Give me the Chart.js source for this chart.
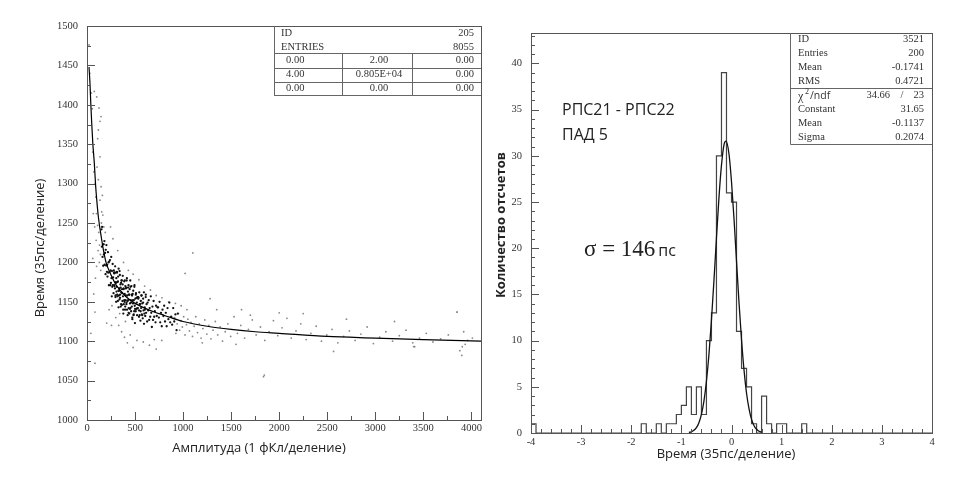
<!DOCTYPE html>
<html>
<head>
<meta charset="utf-8">
<title>РПС: время-амплитуда и временное разрешение</title>
<script src="https://cdn.jsdelivr.net/npm/chart.js"></script>
<style>
  body { margin: 0; background: #fff; }
  #wrap { position: relative; width: 957px; height: 487px; }
  canvas { position: absolute; top: 0; }
  #ampChart { left: 0; }
  #histChart { left: 490px; }
</style>
</head>
<body>
<div id="wrap">
  <canvas id="ampChart" width="490" height="487"></canvas>
  <canvas id="histChart" width="467" height="487"></canvas>
</div>
<script>
// ---------- left panel: time vs amplitude ----------
const ampTicks = [0, 500, 1000, 1500, 2000, 2500, 3000, 3500, 4000];
const timeTicks = [1000, 1050, 1100, 1150, 1200, 1250, 1300, 1350, 1400, 1450, 1500];

// fitted curve
const fitAmp = [21, 31, 40, 49, 60, 76, 90, 101, 118, 150, 175, 198, 250, 300, 350, 400, 500, 600, 700, 800, 1000, 1250, 1500, 1750, 2000, 2500, 3000, 3500, 4100];
const fitTime = [1448, 1427, 1400, 1377, 1352, 1326, 1297, 1280, 1258, 1231, 1213, 1200, 1184, 1172, 1164, 1157, 1148, 1142, 1137, 1133, 1125, 1119, 1115, 1112, 1110, 1106, 1104, 1102, 1100];

// dense band of hits (amplitude, time)
const coreHits = [
  [151,1242],[155,1220],[157,1245],[162,1207],[166,1223],[169,1196],[174,1223],[176,1210],[181,1227],[184,1197],
  [188,1212],[193,1185],[195,1216],[199,1196],[202,1222],[207,1188],[210,1197],[213,1182],[218,1213],[221,1187],
  [224,1200],[228,1171],[231,1201],[236,1188],[239,1203],[243,1171],[246,1190],[249,1174],
  [252,1207],[255,1180],[258,1157],[260,1189],[263,1169],[267,1198],[269,1171],[272,1181],[276,1161],[279,1190],
  [282,1171],[284,1186],[288,1187],[291,1167],[293,1195],[297,1158],[300,1175],[303,1150],[305,1180],[309,1169],
  [312,1187],[314,1159],[318,1175],[321,1151],[324,1182],[327,1164],[329,1192],[333,1158],[336,1167],[338,1153],
  [342,1184],[345,1159],[348,1172],[351,1144],[354,1174],[356,1162],[360,1177],[363,1146],[365,1166],[369,1151],
  [372,1183],[374,1157],[378,1135],[381,1166],[383,1147],[387,1176],[390,1150],[392,1160],[396,1140],[399,1170],
  [402,1152],[405,1167],[408,1168],[411,1149],[413,1177],[417,1140],[420,1158],[423,1133],[426,1163],[429,1152],
  [432,1171],[435,1142],[437,1159],[441,1135],[444,1166],[447,1148],[450,1177],[453,1142],[456,1152],[459,1138],
  [462,1170],[466,1144],[469,1158],[471,1130],[475,1160],[478,1148],[481,1164],[484,1133],[487,1152],[491,1138],
  [494,1171],[497,1145],[499,1123],
  [503,1154],[507,1138],[510,1161],[514,1141],[518,1149],[521,1133],[526,1156],[529,1142],[533,1154],[537,1155],
  [541,1139],[544,1162],[548,1133],[552,1147],[556,1126],[560,1151],[563,1142],[568,1158],[571,1134],[575,1148],
  [580,1129],[584,1154],[588,1139],[592,1162],[597,1135],[601,1143],[606,1132],[611,1156],[615,1136],[620,1147],
  [626,1125],[631,1149],[636,1139],[642,1152],[647,1127],[652,1142],[658,1131],[664,1157],[669,1136],[675,1118],
  [681,1144],[687,1127],[693,1151],[699,1131],
  [706,1138],[713,1124],[719,1145],[726,1132],[733,1143],[740,1143],[748,1130],[755,1150],[762,1124],[770,1136],
  [778,1119],[786,1140],[795,1132],[803,1145],[812,1125],[820,1136],[829,1119],[838,1142],[847,1128],[857,1149],
  [866,1124],[876,1131],[886,1121],[897,1142],[908,1125],[920,1134],[932,1114],[945,1135],
  [281,1187],[286,1170],[290,1187],[296,1156],[301,1174],[307,1163],[311,1188],[317,1157],[322,1176],[328,1143],
  [334,1164],[339,1189],[344,1155],[350,1168],[355,1147],[361,1177],[366,1161],[371,1172],[377,1140],[382,1167],
  [388,1152],[393,1177],[398,1144],[404,1158],[410,1147],[415,1180],[421,1151],[427,1168],[433,1136],[439,1159],
  [446,1141],[452,1169],[458,1149],[465,1159],[472,1128],[479,1152],[486,1134],[493,1169],[500,1141],[508,1159],
  [516,1155],[524,1142],[533,1156],[541,1131],[549,1147],[558,1138],[566,1158],[575,1133],[584,1149],[593,1122],
  [602,1140],[612,1159]
];

// sparse hits around the band and far out
const strayHits = [
  [912,1130],[925,1110],[938,1122],[951,1135],[964,1114],[978,1126],[992,1118],[1006,1131],[1020,1108],[1035,1121],
  [1050,1128],[1066,1113],[1082,1124],[1098,1106],[1115,1119],[1132,1131],[1150,1111],[1168,1122],[1187,1104],[1206,1116],
  [1226,1127],[1247,1109],[1268,1120],[1290,1103],[1312,1114],[1335,1125],[1360,1108],[1385,1118],[1410,1100],[1438,1112],
  [1466,1122],[1495,1106],
  [1530,1131],[1565,1110],[1600,1120],[1640,1104],[1680,1115],[1720,1127],[1760,1108],[1805,1118],[1850,1101],[1895,1112],
  [1940,1126],[1985,1107],[2030,1117],[2080,1129],[2125,1104],[2175,1113],[2225,1122],[2280,1102],[2330,1110],[2385,1119],
  [2440,1100],[2495,1108],[2550,1115],[2610,1098],[2670,1106],[2730,1113],[2790,1101],[2850,1109],[2915,1118],[2980,1097],
  [3045,1105],[3110,1112],[3180,1100],[3250,1107],[3320,1114],[3390,1098],[3410,1093],[3460,1104],[3530,1110],[3600,1099],
  [3680,1103],[3760,1108],[3850,1137],[3880,1088],[3900,1082],[3905,1093],[3920,1112],[3935,1096],[3960,1101],[4010,1104],
  [21,1476],[30,1440],[45,1415],[55,1395],[76,1417],[101,1410],[125,1396],[146,1385],[135,1379],[118,1368],
  [111,1357],[135,1334],[104,1321],[118,1305],[146,1296],[135,1279],[153,1264],[60,1340],[70,1315],[85,1300],
  [92,1283],[98,1262],[110,1247],[122,1238],[130,1222],[140,1210],[95,1228],[80,1245],[65,1262],[115,1215],
  [128,1200],[100,1195],[143,1190],[88,1180],[60,1205],[83,1072],[83,1137],[40,1110],[70,1160],[150,1250],
  [160,1285],[165,1260],[175,1245],[190,1238],[170,1195],
  [205,1123],[230,1140],[260,1145],[300,1130],[330,1120],[360,1112],[390,1105],[420,1098],[450,1108],[480,1092],
  [520,1101],[586,1099],[650,1095],[700,1102],[778,1101],[720,1090],[270,1230],[320,1215],[380,1200],[430,1190],
  [480,1185],[540,1178],[600,1170],[660,1165],[720,1158],[780,1155],[850,1150],[920,1148],[980,1145],[1040,1140],
  [1101,1212],[1021,1186],[1281,1154],[1608,1140],[2566,1087],[1837,1055],[1845,1057],[3851,1137],[3399,1093],[1200,1098],
  [1550,1096],[2250,1135],[2700,1128],[3200,1125],[1350,1140],[1700,1133],[2000,1136],[245,1245],[255,1120],[340,1135],
  [400,1125]
];

// ---------- right panel: time difference histogram ----------
const dtTicks = [-4, -3, -2, -1, 0, 1, 2, 3, 4];
const countTicks = [0, 5, 10, 15, 20, 25, 30, 35, 40];
const histStart = -4;
const histBinWidth = 0.1;
const histCounts = [
  1, 0, 0, 0, 0, 0, 0, 0, 0, 0,
  0, 0, 0, 0, 0, 0, 0, 0, 0, 0,
  0, 0, 1, 0, 0, 1, 0, 1, 1, 2,
  3, 5, 2, 5, 2, 10, 13, 30, 39, 26,
  25, 11, 7, 5, 1, 0, 4, 1, 0, 1,
  1, 0, 0, 0, 1, 0, 0, 0, 0, 0,
  0, 0, 0, 0, 0, 0, 0, 0, 0, 0,
  0, 0, 0, 0, 0, 0, 0, 0, 0, 0
];
// gaussian fit curve
const gaussX = [-0.85, -0.8, -0.75, -0.7, -0.65, -0.6, -0.55, -0.5, -0.45, -0.4, -0.35, -0.3, -0.25, -0.2, -0.15, -0.11, -0.05, 0, 0.05, 0.1, 0.15, 0.2, 0.25, 0.3, 0.35, 0.4, 0.45, 0.5, 0.55, 0.6];
const gaussY = [0.06, 0.13, 0.29, 0.58, 1.12, 2.02, 3.46, 5.6, 8.5, 12.2, 16.5, 21.1, 25.5, 29.0, 31.2, 31.6, 30.2, 27.2, 23.2, 18.6, 14.1, 10.1, 6.8, 4.3, 2.6, 1.47, 0.79, 0.4, 0.19, 0.08];

const statsLeft = [['ID', '205'], ['ENTRIES', '8055']];
const statsLeftGrid = [['0.00', '2.00', '0.00'], ['4.00', '0.805E+04', '0.00'], ['0.00', '0.00', '0.00']];
const statsRight = [['ID', '3521'], ['Entries', '200'], ['Mean', '-0.1741'], ['RMS', '0.4721']];
const statsRightFit = [['Constant', '31.65'], ['Mean', '-0.1137'], ['Sigma', '0.2074']];

const SERIF = '"Liberation Serif", "DejaVu Serif", serif';
const SANS = '"Open Sans", "Noto Sans", sans-serif';

// frame + inward ticks, ROOT style
function frameTicks(xMajor, xMinor, yMajor, yMinor) {
  return {
    id: 'frameTicks',
    afterDatasetsDraw(chart) {
      const {ctx, chartArea: a, scales: {x, y}} = chart;
      ctx.save();
      ctx.strokeStyle = '#555';
      ctx.lineWidth = 1;
      ctx.strokeRect(Math.round(a.left) + 0.5, Math.round(a.top) + 0.5, Math.round(a.right - a.left), Math.round(a.bottom - a.top));
      ctx.beginPath();
      const nx = Math.floor((x.max - x.min) / xMinor + 1e-6);
      for (let i = 0; i <= nx; i++) {
        const v = x.min + i * xMinor;
        const px = Math.round(x.getPixelForValue(v)) + 0.5;
        const r = v / xMajor;
        const len = Math.abs(r - Math.round(r)) < 1e-6 ? 8 : 4;
        ctx.moveTo(px, a.bottom);
        ctx.lineTo(px, a.bottom - len);
      }
      const ny = Math.floor((y.max - y.min) / yMinor + 1e-6);
      for (let i = 0; i <= ny; i++) {
        const v = y.min + i * yMinor;
        const py = Math.round(y.getPixelForValue(v)) + 0.5;
        const r = v / yMajor;
        const len = Math.abs(r - Math.round(r)) < 1e-6 ? 8 : 4;
        ctx.moveTo(a.left, py);
        ctx.lineTo(a.left + len, py);
      }
      ctx.stroke();
      ctx.restore();
    }
  };
}

function text(ctx, str, x, y, font, align, color) {
  ctx.font = font;
  ctx.textAlign = align || 'left';
  ctx.textBaseline = 'middle';
  ctx.fillStyle = color || '#222';
  ctx.fillText(str, x, y);
}

function vtext(ctx, str, x, y, font, color) {
  ctx.save();
  ctx.translate(x, y);
  ctx.rotate(-Math.PI / 2);
  text(ctx, str, 0, 0, font, 'center', color);
  ctx.restore();
}

const leftDecor = {
  id: 'leftDecor',
  afterDraw(chart) {
    const ctx = chart.ctx;
    const a = chart.chartArea;
    ctx.save();
    // stats table
    const L = 274, R = a.right, T = a.top, rows = [53, 67.5, 81.5, 95];
    ctx.strokeStyle = '#666';
    ctx.lineWidth = 1;
    ctx.fillStyle = '#fff';
    ctx.fillRect(L, T + 1, R - L - 1, rows[3] - T);
    ctx.beginPath();
    ctx.moveTo(L + 0.5, T); ctx.lineTo(L + 0.5, rows[3]);
    rows.forEach(r => { ctx.moveTo(L, Math.round(r) + 0.5); ctx.lineTo(R, Math.round(r) + 0.5); });
    ctx.moveTo(342.5, rows[0]); ctx.lineTo(342.5, rows[3]);
    ctx.moveTo(412.5, rows[0]); ctx.lineTo(412.5, rows[3]);
    ctx.stroke();
    const f = '10.5px ' + SERIF;
    statsLeft.forEach((row, i) => {
      const yy = 33 + i * 14;
      text(ctx, row[0], 281, yy, f, 'left', '#333');
      text(ctx, row[1], 474, yy, f, 'right', '#333');
    });
    statsLeftGrid.forEach((row, i) => {
      const yy = 60.5 + i * 14;
      text(ctx, row[0], 286, yy, f, 'left', '#333');
      text(ctx, row[1], 379, yy, f, 'center', '#333');
      text(ctx, row[2], 474, yy, f, 'right', '#333');
    });
    // axis titles
    text(ctx, 'Амплитуда (1 фКл/деление)', 259, 448, '13px ' + SANS, 'center', '#222');
    vtext(ctx, 'Время (35пс/деление)', 40, 248, '13px ' + SANS, '#222');
    ctx.restore();
  }
};

const rightDecor = {
  id: 'rightDecor',
  afterDraw(chart) {
    const ctx = chart.ctx;
    const a = chart.chartArea;
    const ox = 490;
    ctx.save();
    // stats box
    const L = 790.5 - ox, R = a.right, T = a.top, B = 144.5, D = 88.5;
    ctx.fillStyle = '#fff';
    ctx.fillRect(L, T + 1, R - L - 1, B - T);
    ctx.strokeStyle = '#666';
    ctx.lineWidth = 1;
    ctx.beginPath();
    ctx.moveTo(L, T); ctx.lineTo(L, B);
    ctx.moveTo(L, B); ctx.lineTo(R, B);
    ctx.moveTo(L, D); ctx.lineTo(R, D);
    ctx.stroke();
    const f = '10.5px ' + SERIF;
    const xl = 798 - ox, xr = 924 - ox;
    statsRight.forEach((row, i) => {
      const yy = 39 + i * 14.2;
      text(ctx, row[0], xl, yy, f, 'left', '#333');
      text(ctx, row[1], xr, yy, f, 'right', '#333');
    });
    // chi2 / ndf line
    const yc = 95.7;
    text(ctx, 'χ', xl, yc + 1, '12px ' + SERIF, 'left', '#333');
    text(ctx, '2', xl + 7, yc - 4, '8px ' + SERIF, 'left', '#333');
    text(ctx, '/ndf', xl + 12, yc, '10.5px ' + SANS, 'left', '#333');
    text(ctx, '34.66', 890 - ox, yc, f, 'right', '#333');
    text(ctx, '/', 902 - ox, yc, f, 'center', '#333');
    text(ctx, '23', xr, yc, f, 'right', '#333');
    statsRightFit.forEach((row, i) => {
      const yy = 109.7 + i * 14;
      text(ctx, row[0], xl, yy, f, 'left', '#333');
      text(ctx, row[1], xr, yy, f, 'right', '#333');
    });
    // annotations
    text(ctx, 'РПС21 - РПС22', 562 - ox, 110, '16px ' + SANS, 'left', '#222');
    text(ctx, 'ПАД 5', 562 - ox, 135, '16px ' + SANS, 'left', '#222');
    ctx.font = '23px ' + SERIF;
    const sig = 'σ = 146';
    text(ctx, sig, 584 - ox, 250, '23px ' + SERIF, 'left', '#222');
    const w = ctx.measureText(sig).width;
    text(ctx, 'пс', 584 - ox + w + 3, 251, '16px ' + SANS, 'left', '#222');
    // axis titles
    text(ctx, 'Время (35пс/деление)', 726 - ox, 454, '13px ' + SANS, 'center', '#222');
    vtext(ctx, 'Количество отсчетов', 501 - ox, 225, 'bold 13px ' + SANS, '#222');
    ctx.restore();
  }
};

function fixedTicks(list) {
  return scale => { scale.ticks = list.map(v => ({value: v})); };
}
const plainLabel = v => String(v);

const tickFont = {family: SERIF, size: 10.5};

new Chart(document.getElementById('ampChart'), {
  type: 'scatter',
  data: {
    datasets: [
      {
        label: 'хиты',
        data: strayHits.map(p => ({x: p[0], y: p[1]})),
        pointRadius: 0.9,
        pointBorderWidth: 0,
        pointBackgroundColor: '#888',
        order: 3
      },
      {
        label: 'хиты (плотная область)',
        data: coreHits.map(p => ({x: p[0], y: p[1]})),
        pointRadius: 1.15,
        pointBorderWidth: 0,
        pointBackgroundColor: '#111',
        order: 2
      },
      {
        label: 'фит',
        data: fitAmp.map((v, i) => ({x: v, y: fitTime[i]})),
        showLine: true,
        pointRadius: 0,
        borderColor: '#000',
        borderWidth: 1.2,
        cubicInterpolationMode: 'monotone',
        order: 1
      }
    ]
  },
  options: {
    responsive: false,
    animation: false,
    devicePixelRatio: 1,
    layout: {padding: {top: 26, right: 9, left: 0, bottom: 0}},
    plugins: {legend: {display: false}, tooltip: {enabled: false}},
    scales: {
      x: {
        type: 'linear', min: 0, max: 4100,
        afterBuildTicks: fixedTicks(ampTicks),
        afterFit: s => { s.height = 67; },
        grid: {display: false, drawTicks: false},
        border: {display: false},
        ticks: {font: tickFont, color: '#333', padding: 2, maxRotation: 0, callback: plainLabel}
      },
      y: {
        type: 'linear', min: 1000, max: 1500,
        afterBuildTicks: fixedTicks(timeTicks),
        afterFit: s => { s.width = 87; },
        grid: {display: false, drawTicks: false},
        border: {display: false},
        ticks: {font: tickFont, color: '#333', padding: 9, callback: plainLabel}
      }
    }
  },
  plugins: [frameTicks(500, 250, 50, 25), leftDecor]
});

const histOutline = [{x: histStart, y: 0}];
histCounts.forEach((c, i) => histOutline.push({x: histStart + i * histBinWidth, y: c}));
histOutline.push({x: histStart + histCounts.length * histBinWidth, y: 0});

new Chart(document.getElementById('histChart'), {
  type: 'scatter',
  data: {
    datasets: [
      {
        label: 'отсчеты',
        data: histOutline,
        showLine: true,
        stepped: 'before',
        pointRadius: 0,
        borderColor: '#444',
        borderWidth: 1.2,
        order: 2
      },
      {
        label: 'гаусс',
        data: gaussX.map((v, i) => ({x: v, y: gaussY[i]})),
        showLine: true,
        pointRadius: 0,
        borderColor: '#111',
        borderWidth: 1.3,
        cubicInterpolationMode: 'monotone',
        order: 1
      }
    ]
  },
  options: {
    responsive: false,
    animation: false,
    devicePixelRatio: 1,
    layout: {padding: {top: 33, right: 25, left: 0, bottom: 0}},
    plugins: {legend: {display: false}, tooltip: {enabled: false}},
    scales: {
      x: {
        type: 'linear', min: -4, max: 4,
        afterBuildTicks: fixedTicks(dtTicks),
        afterFit: s => { s.height = 54; },
        grid: {display: false, drawTicks: false},
        border: {display: false},
        ticks: {font: tickFont, color: '#333', padding: 3, maxRotation: 0, callback: plainLabel}
      },
      y: {
        type: 'linear', min: 0, max: 43.3,
        afterBuildTicks: fixedTicks(countTicks),
        afterFit: s => { s.width = 41; },
        grid: {display: false, drawTicks: false},
        border: {display: false},
        ticks: {font: tickFont, color: '#333', padding: 9, callback: plainLabel}
      }
    }
  },
  plugins: [frameTicks(1, 0.2, 5, 1), rightDecor]
});
</script>
</body>
</html>
